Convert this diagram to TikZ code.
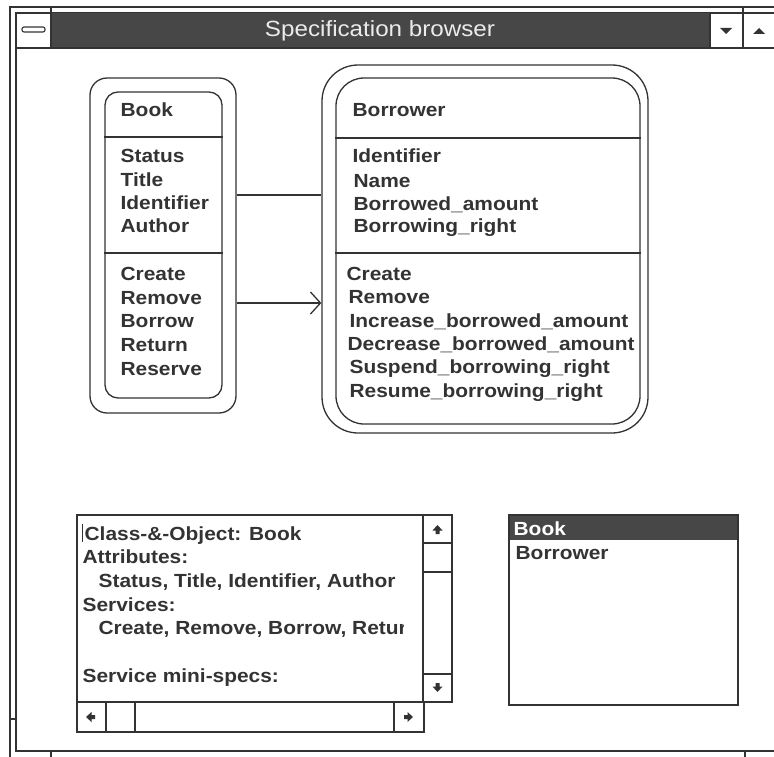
\documentclass[tikz,border=0pt]{standalone}
\usepackage{fontspec}
\setmainfont{Liberation Sans}
\newfontfamily\uifont[FakeStretch=1.1]{Liberation Sans}
\usetikzlibrary{arrows.meta}
\definecolor{ink}{HTML}{333333}
\definecolor{bar}{HTML}{474747}
\begin{document}
\begin{tikzpicture}[x=1pt,y=-1pt,line width=1.3pt,
  box/.style={draw=ink,line width=1.3pt,rounded corners=#1,inner sep=0pt},
  plain/.style={draw=ink,line width=1.3pt,inner sep=0pt},
  lbl/.style={anchor=base west,inner sep=0pt,text=ink,font=\uifont\bfseries\fontsize{19}{19}\selectfont},
  uparr/.pic={\fill[ink] (-5,0.5) -- (0,-5) -- (5,0.5) -- (2,0.5) -- (2,4) -- (-2,4) -- (-2,0.5) -- cycle;}]
\useasboundingbox (0,0) rectangle (774,757);
\fill[white] (0,0) rectangle (774,757);
% window frame
\draw[ink] (774,7) -- (10,7) -- (10,757);
\draw[ink] (774,13) -- (16,13) -- (16,751) -- (774,751);
\draw[ink] (10,719) -- (16,719);
\draw[ink] (51,751) -- (51,757);
\draw[ink] (745,751) -- (745,757);
% title bar
\fill[bar] (51,13) rectangle (710,48);
\draw[ink] (51,7) -- (51,48);
\draw[ink] (16,48) -- (774,48);
\draw[ink] (710,13) -- (710,48);
\draw[ink] (743,7) -- (743,48);
\draw[ink,line width=1.1pt,rounded corners=2pt,fill=white] (22,27) rectangle (45,32);
\fill[ink] (720,28) -- (732,28) -- (726,34) -- cycle;
\fill[ink] (753,34) -- (765,34) -- (759,28) -- cycle;
\node[text=white!92!black,font=\uifont\fontsize{22}{22}\selectfont,inner sep=0pt] (title) at (380,31) {Specification browser};
% Book class
\node[box=17pt,minimum width=146pt,minimum height=335pt] (bookO) at (163,245.5) {};
\node[box=13pt,minimum width=117pt,minimum height=306pt] (bookI) at (163.5,245) {};
\coordinate (d1) at (0,137);
\coordinate (d2) at (0,253);
\coordinate (d3) at (0,138);
\draw[ink] (bookI.west |- d1) -- (bookI.east |- d1);
\draw[ink] (bookI.west |- d2) -- (bookI.east |- d2);
\node[lbl] (bk) at (120,117) {Book};
\node[lbl] (bk1) at (120,163) {Status};
\node[lbl] (bk2) at (120,186) {Title};
\node[lbl] (bk3) at (120,209) {Identifier};
\node[lbl] (bk4) at (120,232) {Author};
\node[lbl] (bk5) at (120,280) {Create};
\node[lbl] (bk6) at (120,304) {Remove};
\node[lbl] (bk7) at (120,327) {Borrow};
\node[lbl] (bk8) at (120,351) {Return};
\node[lbl] (bk9) at (120,375) {Reserve};
% Borrower class
\node[box=36pt,minimum width=326pt,minimum height=368pt] (borO) at (485,249) {};
\node[box=28pt,minimum width=304pt,minimum height=346pt] (borI) at (488,251) {};
\draw[ink] (borI.west |- d3) -- (borI.east |- d3);
\draw[ink] (borI.west |- d2) -- (borI.east |- d2);
\node[lbl] (br) at (352,117) {Borrower};
\node[lbl] (br1) at (352,163) {Identifier};
\node[lbl] (br2) at (353,187) {Name};
\node[lbl] (br3) at (353,210) {Borrowed\_amount};
\node[lbl] (br4) at (353,233) {Borrowing\_right};
\node[lbl] (br5) at (346,280) {Create};
\node[lbl] (br6) at (348,303) {Remove};
\node[lbl] (br7) at (349,327) {Increase\_borrowed\_amount};
\node[lbl] (br8) at (347,350) {Decrease\_borrowed\_amount};
\node[lbl] (br9) at (349,373) {Suspend\_borrowing\_right};
\node[lbl] (br10) at (349,397) {Resume\_borrowing\_right};
% connectors
\coordinate (c1) at (0,195);
\coordinate (c2) at (0,303);
\draw[ink] (bookO.east |- c1) -- (borO.west |- c1);
\draw[ink,-{Straight Barb[length=10pt,width=22pt]}] (bookO.east |- c2) -- (borO.west |- c2);
% specification text box
\node[plain,minimum width=346pt,minimum height=187pt] (spec) at (250,608.5) {};
\node[plain,minimum width=29pt,minimum height=187pt] (vscr) at (437.5,608.5) {};
\node[plain,minimum width=347pt,minimum height=30pt] (hscr) at (250.5,717) {};
\draw[ink] (vscr.west |- 0,543) -- (vscr.east |- 0,543);
\draw[ink] (vscr.west |- 0,572) -- (vscr.east |- 0,572);
\draw[ink] (vscr.west |- 0,674) -- (vscr.east |- 0,674);
\draw[ink] (106,702) -- (106,732);
\draw[ink] (135,702) -- (135,732);
\draw[ink] (394,702) -- (394,732);
\pic at (437.5,530) {uparr};
\pic[rotate=180] at (437.5,687) {uparr};
\pic[rotate=90] at (91,717) {uparr};
\pic[rotate=-90] at (408,717) {uparr};
\draw[ink,line width=0.9pt] (82.5,524) -- (82.5,542);
\node[lbl] (s1) at (84,540) {Class-\&-Object: Book};
\node[lbl] (s2) at (82,563) {Attributes:};
\node[lbl] (s3) at (98,587) {Status, Title, Identifier, Author};
\node[lbl] (s4) at (82,611) {Services:};
\begin{scope}
\clip (78,612) rectangle (403.5,650);
\node[lbl] (s5) at (98,634) {Create, Remove, Borrow, Return};
\end{scope}
\node[lbl] (s6) at (82,682) {Service mini-specs:};
% class list
\fill[bar] (509,515) rectangle (738,540);
\node[plain,minimum width=229pt,minimum height=190pt] (list) at (623.5,610) {};
\node[lbl,text=white] (l1) at (513,535) {Book};
\node[lbl] (l2) at (515,559) {Borrower};
\end{tikzpicture}
\end{document}
